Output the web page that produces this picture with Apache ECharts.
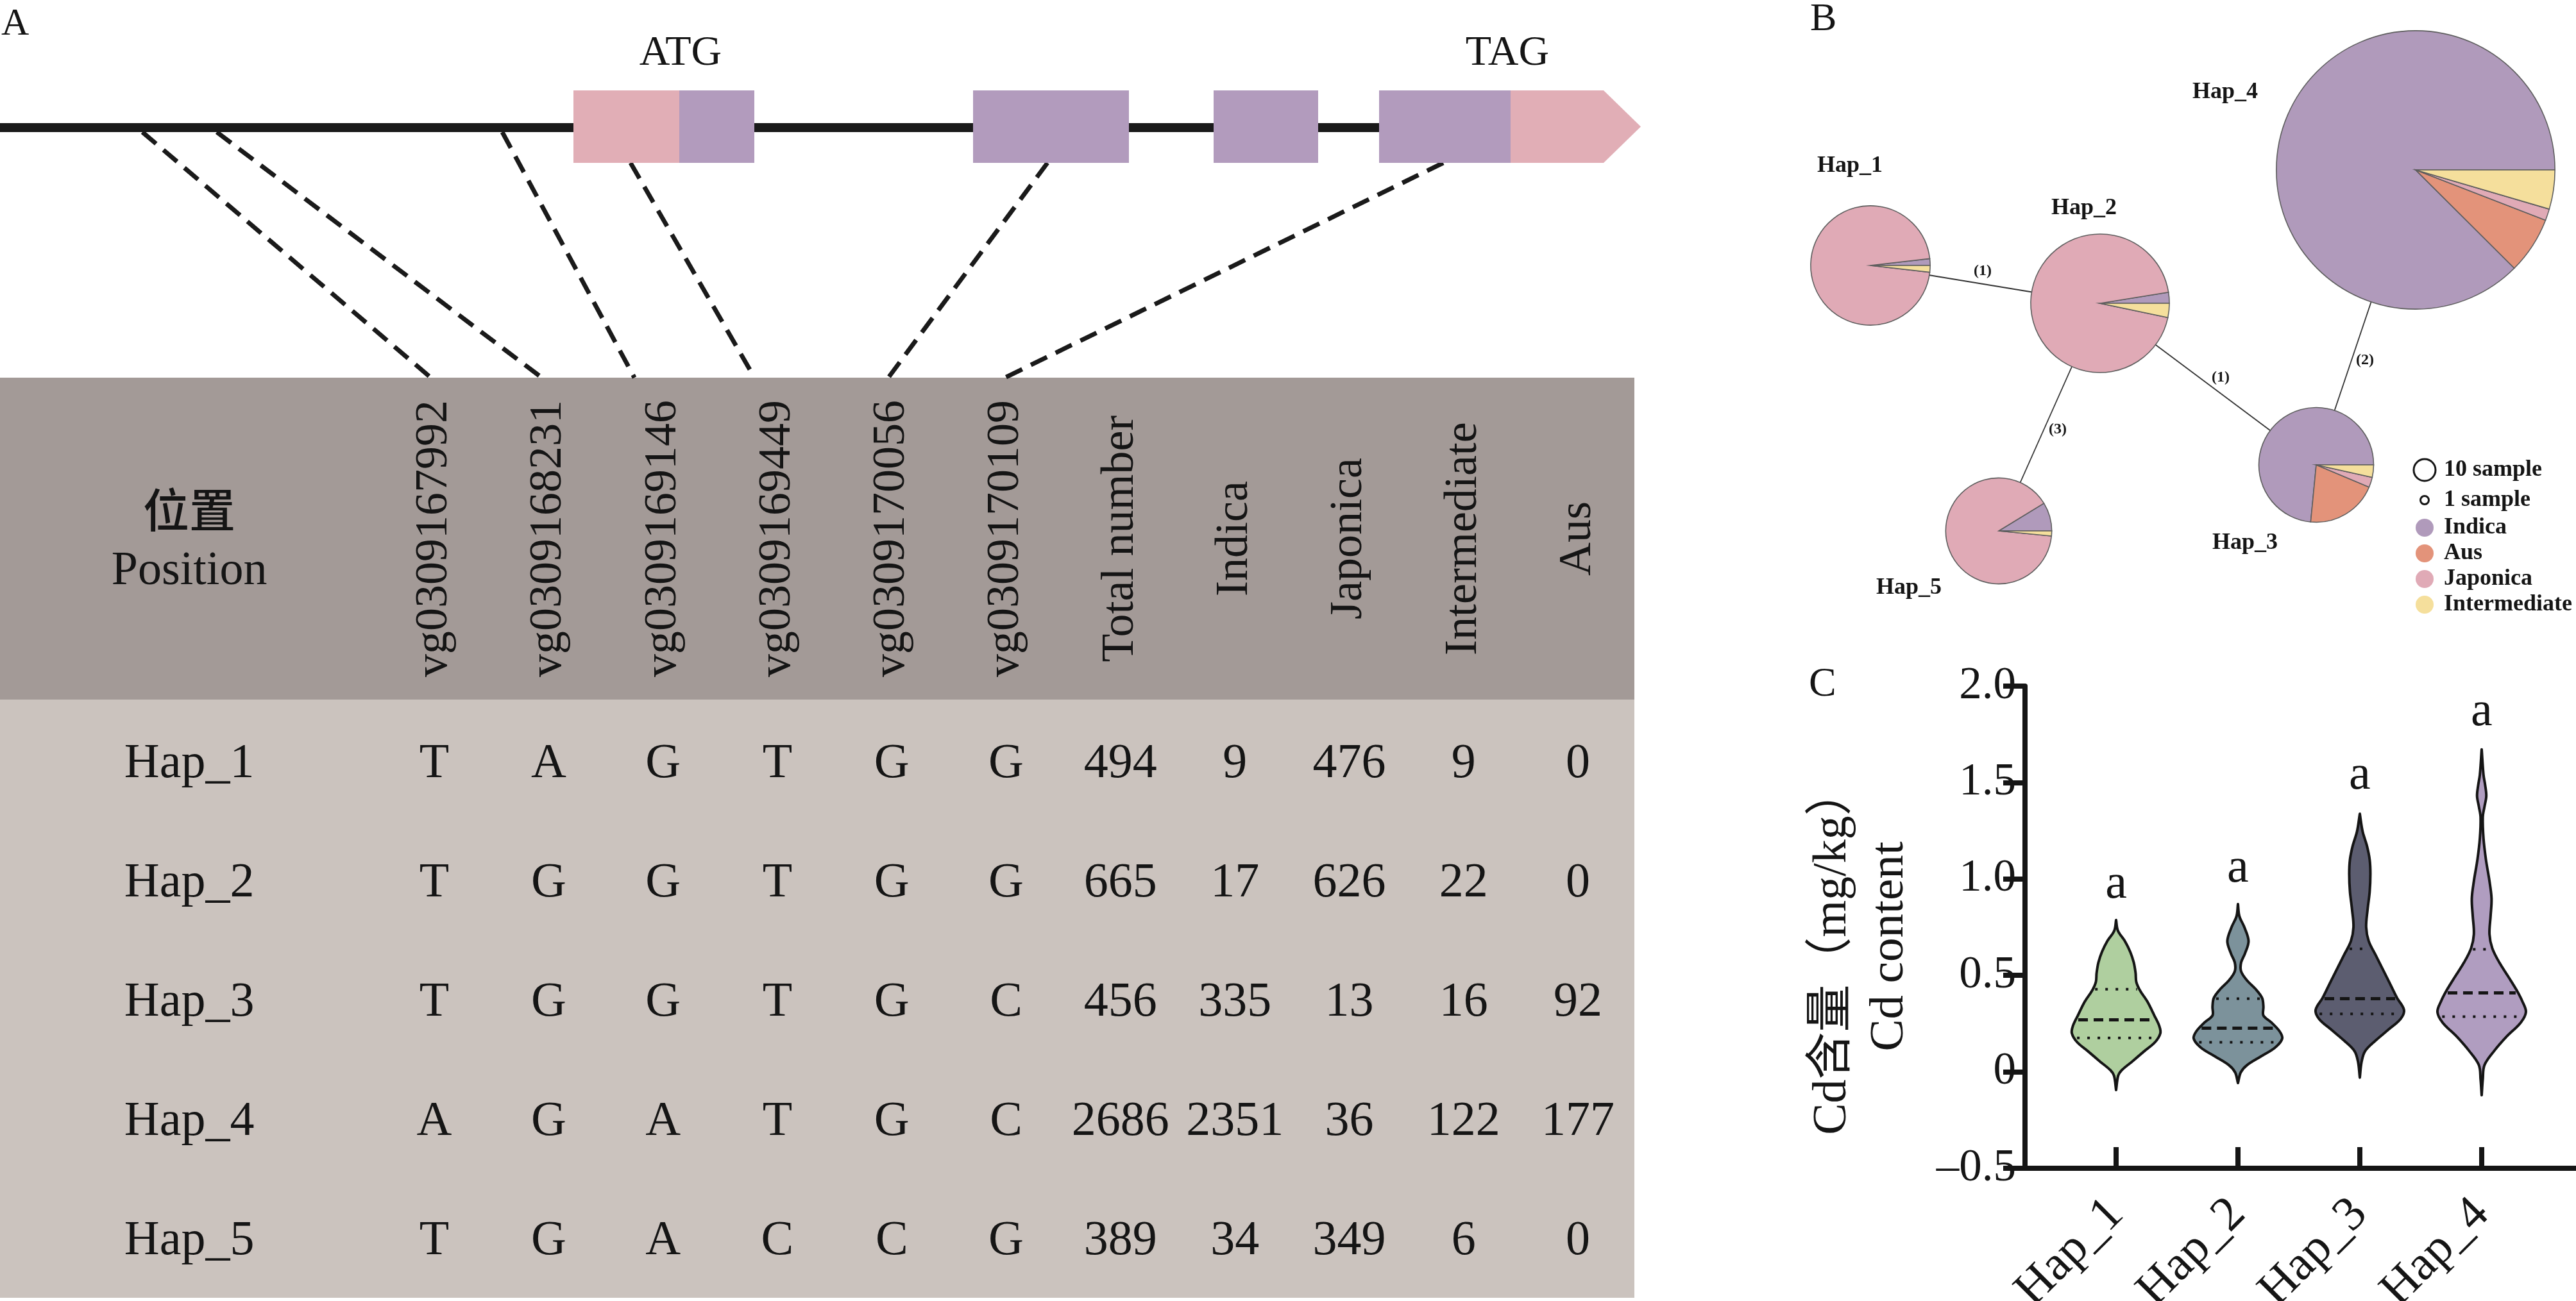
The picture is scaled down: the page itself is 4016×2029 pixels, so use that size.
<!DOCTYPE html>
<html><head><meta charset="utf-8">
<script src="https://cdn.jsdelivr.net/npm/echarts@6/dist/echarts.min.js"></script>
<style>html,body{margin:0;padding:0;background:#fff}#c{width:4016px;height:2029px}</style>
</head><body><div id="c"></div>
<script>
// ================= DATA =================
const haplotypes = ['Hap_1', 'Hap_2', 'Hap_3', 'Hap_4', 'Hap_5'];
const snpIds = ['vg0309167992', 'vg0309168231', 'vg0309169146', 'vg0309169449', 'vg0309170056', 'vg0309170109'];
const snpAlleles = [
  ['T', 'A', 'G', 'T', 'G', 'G'],
  ['T', 'G', 'G', 'T', 'G', 'G'],
  ['T', 'G', 'G', 'T', 'G', 'C'],
  ['A', 'G', 'A', 'T', 'G', 'C'],
  ['T', 'G', 'A', 'C', 'C', 'G']
];
const countHeaders = ['Total number', 'Indica', 'Japonica', 'Intermediate', 'Aus'];
const totalNumber = [494, 665, 456, 2686, 389];
const indica = [9, 17, 335, 2351, 34];
const japonica = [476, 626, 13, 36, 349];
const intermediate = [9, 22, 16, 122, 6];
const aus = [0, 0, 92, 177, 0];

// gene model (relative position units)
const geneBackbone = [0, 2355];
const exons = [[894, 1059, 'UTR'], [1059, 1176, 'CDS'], [1517, 1760, 'CDS'], [1892, 2055, 'CDS'], [2150, 2355, 'CDS'], [2355, 2558, 'UTR3']];
const codonLabels = ['ATG', 'TAG'];
const codonPos = [1061, 2350];
const snpGenePos = [222, 338, 783, 983, 1633, 2250];
// where each SNP's connector meets the table (in table column units)
const snpTableAnchor = [-0.03, 0.94, 1.75, 2.8, 3.97, 4.99];

// haplotype network
const networkEdges = [[0, 1, '(1)'], [1, 2, '(1)'], [1, 4, '(3)'], [2, 3, '(2)']];
const nodeLayout = [[266, 414], [624, 473], [961, 725], [1116, 265], [466, 828]];
const nodeLabelOffset = [[-32, -155], [-25, -148], [-111, 122], [-297, -121], [-140, 89]];

// violin plot (value, half-width in category units)
const violinGroups = ['Hap_1', 'Hap_2', 'Hap_3', 'Hap_4'];
const violinHap1 = [[-0.094,0],[-0.02,0.017],[0.007,0.044],[0.053,0.131],[0.108,0.233],[0.154,0.32],[0.200,0.363],[0.237,0.355],[0.292,0.314],[0.365,0.256],[0.420,0.198],[0.466,0.166],[0.512,0.16],[0.567,0.145],[0.622,0.116],[0.677,0.073],[0.732,0.015],[0.787,0]];
const violinHap2 = [[-0.058,0],[-0.003,0.023],[0.034,0.073],[0.080,0.189],[0.126,0.305],[0.172,0.363],[0.209,0.343],[0.255,0.276],[0.292,0.209],[0.338,0.209],[0.383,0.198],[0.429,0.145],[0.475,0.073],[0.521,0.026],[0.567,0.026],[0.614,0.058],[0.678,0.087],[0.751,0.052],[0.806,0.012],[0.870,0]];
const violinHap3 = [[-0.030,0],[0.053,0.015],[0.108,0.044],[0.163,0.131],[0.218,0.233],[0.274,0.334],[0.320,0.363],[0.384,0.305],[0.458,0.247],[0.531,0.189],[0.604,0.131],[0.678,0.073],[0.751,0.052],[0.843,0.064],[0.934,0.081],[1.026,0.087],[1.100,0.081],[1.173,0.058],[1.246,0.023],[1.338,0]];
const violinHap4 = [[-0.121,0],[-0.039,0.009],[0.035,0.023],[0.108,0.102],[0.182,0.203],[0.255,0.32],[0.310,0.363],[0.365,0.334],[0.420,0.29],[0.494,0.218],[0.567,0.145],[0.641,0.087],[0.714,0.064],[0.806,0.073],[0.898,0.081],[0.989,0.064],[1.100,0.035],[1.210,0.015],[1.320,0.009],[1.375,0.023],[1.430,0.038],[1.485,0.029],[1.540,0.015],[1.672,0]];
const violinProfiles = [violinHap1, violinHap2, violinHap3, violinHap4];
const medians = [0.27, 0.226, 0.379, 0.409];
const quartile1 = [0.176, 0.153, 0.300, 0.286];
const quartile3 = [0.428, 0.379, 0.638, 0.635];
const sigLetters = ['a', 'a', 'a', 'a'];
const sigLetterY = [0.97, 1.054, 1.533, 1.862];

// ================= STYLE / LAYOUT =================
const SERIF = '"Liberation Serif","Times New Roman","Noto Sans CJK SC",serif';
const CJK = '"Noto Sans CJK SC","Liberation Serif",serif';
const INK = '#151515';
const C_UTR = '#e1aeb6', C_CDS = '#b29bbd';
const groupNames = ['Indica', 'Aus', 'Japonica', 'Intermediate'];
const groupCounts = [indica, aus, japonica, intermediate];
const groupColors = ['#b09abb', '#e3937a', '#e0aab6', '#f5df9c'];
const violinColors = ['#afcf9f', '#7c929b', '#5c5d70', '#b09dc0'];
const PIE_K = 4.19;               // px per sqrt(sample)
const LINE_Y = 199, LINE_HALF = 7, BOX_TOP = 141, BOX_BOTTOM = 254, CODON_Y = 84, TABLE_TOP = 589;
const HAP_COL = -2.142, HEADER_ROW = -1.892;

function T(x, y, text, font, extra) {
  return Object.assign({ type: 'text', x: x, y: y, style: { text: text, font: font, fill: INK, align: 'center', verticalAlign: 'middle', textAlign: 'center', textVerticalAlign: 'middle' } }, extra || {});
}

// table cells
const cellPos = [], cellText = [];
haplotypes.forEach((h, r) => {
  cellPos.push([HAP_COL, r]); cellText.push(h);
  snpAlleles[r].forEach((a, c) => { cellPos.push([c, r]); cellText.push(a); });
  [totalNumber, indica, japonica, intermediate, aus].forEach((arr, k) => { cellPos.push([6 + k, r]); cellText.push(String(arr[r])); });
});
const headerText = snpIds.concat(countHeaders);

function hwAt(prof, v) {
  for (let k = 0; k < prof.length - 1; k++) {
    const a = prof[k], b = prof[k + 1];
    if (v >= a[0] && v <= b[0]) return a[1] + (b[1] - a[1]) * (v - a[0]) / (b[0] - a[0]);
  }
  return 0;
}

const chart = echarts.init(document.getElementById('c'));
const hidden = { show: false };
const option = {
  animation: false,
  backgroundColor: '#fff',
  grid: [
    { left: 0, top: 0, width: 2560, height: 589, outerBoundsMode: 'none' },
    { left: 0, top: 589, width: 2548, height: 1435, outerBoundsMode: 'none' },
    { left: 2650, top: 0, width: 1366, height: 1050, outerBoundsMode: 'none' },
    { left: 3157, top: 1070, width: 859, height: 752, outerBoundsMode: 'none' }
  ],
  xAxis: [
    Object.assign({ gridIndex: 0, type: 'value', min: 0, max: 2560 }, hidden),
    Object.assign({ gridIndex: 1, type: 'value', min: -3.797, max: 10.493 }, hidden),
    Object.assign({ gridIndex: 2, type: 'value', min: 0, max: 1366 }, hidden),
    {
      gridIndex: 3, type: 'value', min: 0.2526, max: 4.774,
      axisLine: { show: true, onZero: false, lineStyle: { color: INK, width: 8 } },
      axisTick: { show: true, inside: true, length: 33, customValues: [1, 2, 3, 4], lineStyle: { color: INK, width: 8 } },
      axisLabel: { show: true, customValues: [1, 2, 3, 4], rotate: 45, margin: 60, fontFamily: SERIF, fontSize: 76, color: INK,
        formatter: v => violinGroups[Math.round(v) - 1] || '' },
      splitLine: { show: false }
    }
  ],
  yAxis: [
    Object.assign({ gridIndex: 0, type: 'value', min: 0, max: 589, inverse: true }, hidden),
    Object.assign({ gridIndex: 1, type: 'value', min: -3.242, max: 4.473, inverse: true }, hidden),
    Object.assign({ gridIndex: 2, type: 'value', min: 0, max: 1050, inverse: true }, hidden),
    {
      gridIndex: 3, type: 'value', min: -0.5, max: 2.0, interval: 0.5,
      axisLine: { show: true, onZero: false, lineStyle: { color: INK, width: 8 } },
      axisTick: { show: true, length: 34, lineStyle: { color: INK, width: 8 } },
      axisLabel: { show: true, margin: 14, fontFamily: SERIF, fontSize: 71, color: INK,
        formatter: v => v === 0 ? '0' : (v < 0 ? '\u2013' + Math.abs(v).toFixed(1) : v.toFixed(1)) },
      splitLine: { show: false }
    }
  ],
  graphic: [
    // table backgrounds
    { type: 'rect', z: 0, shape: { x: 0, y: 589, width: 2548, height: 502 }, style: { fill: '#a39a97' } },
    { type: 'rect', z: 0, shape: { x: 0, y: 1091, width: 2548, height: 933 }, style: { fill: '#cbc3be' } },
    // panel letters
    { type: 'text', x: 2, y: 8, style: { text: 'A', font: '60px ' + SERIF, fill: INK } },
    { type: 'text', x: 2822, y: 0, style: { text: 'B', font: '62px ' + SERIF, fill: INK } },
    { type: 'text', x: 2820, y: 1036, style: { text: 'C', font: '64px ' + SERIF, fill: INK } },
    // y-axis title of C
    T(2858, 1484, 'Cd含量（mg/kg）', '74px ' + SERIF, { rotation: Math.PI / 2 }),
    T(2946, 1476, 'Cd content', '75px ' + SERIF, { rotation: Math.PI / 2 }),
    // legend of B
    { type: 'circle', shape: { cx: 3780, cy: 733, r: 17 }, style: { fill: 'none', stroke: INK, lineWidth: 3 } },
    { type: 'circle', shape: { cx: 3780, cy: 780, r: 6.5 }, style: { fill: 'none', stroke: INK, lineWidth: 3 } },
    ...groupNames.map((g, k) => ({ type: 'circle', shape: { cx: 3780, cy: 823 + k * 40, r: 14 }, style: { fill: groupColors[k] } })),
    ...['10 sample', '1 sample'].concat(groupNames).map((t, k) => ({
      type: 'text', x: 3810, y: [733, 780, 823, 863, 903, 943][k],
      style: { text: t, font: 'bold 36px ' + SERIF, fill: INK, align: 'left', verticalAlign: 'middle', textAlign: 'left', textVerticalAlign: 'middle' }
    }))
  ],
  series: [
    // gene backbone
    {
      type: 'custom', xAxisIndex: 0, yAxisIndex: 0, z: 2, data: [geneBackbone],
      renderItem: (p, api) => {
        const a = api.coord([api.value(0), LINE_Y - LINE_HALF]), b = api.coord([api.value(1), LINE_Y + LINE_HALF]);
        return { type: 'rect', shape: { x: a[0], y: a[1], width: b[0] - a[0], height: b[1] - a[1] }, style: { fill: '#1a1a1a' } };
      }
    },
    // exons
    {
      type: 'custom', xAxisIndex: 0, yAxisIndex: 0, z: 3, data: exons.map(e => [e[0], e[1]]),
      renderItem: (p, api) => {
        const kind = exons[p.dataIndex][2];
        const a = api.coord([api.value(0), BOX_TOP]), b = api.coord([api.value(1), BOX_BOTTOM]);
        if (kind === 'UTR3') {
          const tipW = 58, m = (a[1] + b[1]) / 2;
          return { type: 'polygon', shape: { points: [[a[0], a[1]], [b[0] - tipW, a[1]], [b[0], m], [b[0] - tipW, b[1]], [a[0], b[1]]] }, style: { fill: C_UTR } };
        }
        return { type: 'rect', shape: { x: a[0], y: a[1], width: b[0] - a[0], height: b[1] - a[1] }, style: { fill: kind === 'CDS' ? C_CDS : C_UTR } };
      }
    },
    // codon labels
    {
      type: 'custom', xAxisIndex: 0, yAxisIndex: 0, z: 3, data: codonPos.map(v => [v, CODON_Y]),
      renderItem: (p, api) => { const c = api.coord([api.value(0), api.value(1)]); return T(c[0], c[1], codonLabels[p.dataIndex], '66px ' + SERIF); }
    },
    // connectors (filled after layout)
    {
      id: 'connectors', type: 'custom', xAxisIndex: 0, yAxisIndex: 0, z: 1, data: [],
      renderItem: (p, api) => {
        const pos = api.value(0), tgt = api.value(1);
        const inExon = exons.some(e => pos >= e[0] && pos <= e[1]);
        const a = api.coord([pos, inExon ? BOX_BOTTOM : LINE_Y + LINE_HALF]), b = api.coord([tgt, TABLE_TOP]);
        return { type: 'line', shape: { x1: a[0], y1: a[1], x2: b[0], y2: b[1] }, style: { stroke: '#1a1a1a', lineWidth: 7, lineDash: [28, 15] } };
      }
    },
    // table header
    {
      type: 'custom', xAxisIndex: 1, yAxisIndex: 1, z: 5, data: headerText.map((t, c) => [c, HEADER_ROW]),
      renderItem: (p, api) => {
        const c = api.coord([api.value(0), api.value(1)]);
        return T(c[0], c[1], headerText[p.dataIndex], '72px ' + SERIF, { rotation: Math.PI / 2 });
      }
    },
    {
      type: 'custom', xAxisIndex: 1, yAxisIndex: 1, z: 5, data: [[HAP_COL, -2.134], [HAP_COL, -1.613]],
      renderItem: (p, api) => {
        const c = api.coord([api.value(0), api.value(1)]);
        return p.dataIndex === 0 ? T(c[0], c[1], '位置', '500 72px ' + CJK) : T(c[0], c[1], 'Position', '74px ' + SERIF);
      }
    },
    // table body
    {
      type: 'custom', xAxisIndex: 1, yAxisIndex: 1, z: 5, data: cellPos,
      renderItem: (p, api) => {
        const c = api.coord([api.value(0), api.value(1)]);
        return T(c[0], c[1], cellText[p.dataIndex], '76px ' + SERIF);
      }
    },
    // network edges
    {
      type: 'custom', xAxisIndex: 2, yAxisIndex: 2, z: 4, data: networkEdges.map(e => [e[0], e[1]]),
      renderItem: (p, api) => {
        const e = networkEdges[p.dataIndex];
        const pa = api.coord(nodeLayout[e[0]]), pb = api.coord(nodeLayout[e[1]]);
        const ra = PIE_K * Math.sqrt(totalNumber[e[0]]), rb = PIE_K * Math.sqrt(totalNumber[e[1]]);
        const dx = pb[0] - pa[0], dy = pb[1] - pa[1], d = Math.hypot(dx, dy), ux = dx / d, uy = dy / d;
        const s = ra + (d - ra - rb) / 2;
        let px = -uy, py = ux; if (px < 0) { px = -px; py = -py; }
        const mx = pa[0] + ux * s + px * 20, my = pa[1] + uy * s + py * 20;
        return { type: 'group', children: [
          { type: 'line', shape: { x1: pa[0], y1: pa[1], x2: pb[0], y2: pb[1] }, style: { stroke: '#333', lineWidth: 1.8 } },
          T(mx, my, e[2], 'bold 24px ' + SERIF)
        ] };
      }
    },
    // network pies
    {
      type: 'custom', xAxisIndex: 2, yAxisIndex: 2, z: 6, data: nodeLayout.map((n, i) => [n[0], n[1], totalNumber[i]]),
      renderItem: (p, api) => {
        const i = p.dataIndex;
        const c = api.coord([api.value(0), api.value(1)]);
        const r = PIE_K * Math.sqrt(api.value(2));
        const total = groupCounts.reduce((s, arr) => s + arr[i], 0);
        let cum = 0; const children = [];
        groupCounts.forEach((arr, g) => {
          const v = arr[i]; if (!v) return;
          const a0 = -cum / total * 2 * Math.PI; cum += v; const a1 = -cum / total * 2 * Math.PI;
          children.push({ type: 'sector', shape: { cx: c[0], cy: c[1], r: r, r0: 0, startAngle: a1, endAngle: a0, clockwise: true }, style: { fill: groupColors[g], stroke: '#5e5e5e', lineWidth: 1.6 } });
        });
        const o = nodeLabelOffset[i];
        children.push(T(c[0] + o[0], c[1] + o[1], haplotypes[i], 'bold 36px ' + SERIF));
        return { type: 'group', children: children };
      }
    },
    // violins
    {
      type: 'custom', xAxisIndex: 3, yAxisIndex: 3, z: 5, data: violinGroups.map((g, i) => [i + 1, medians[i]]),
      renderItem: (p, api) => {
        const i = p.dataIndex, xc = api.value(0), prof = violinProfiles[i];
        const right = prof.map(q => api.coord([xc + q[1], q[0]]));
        const left = prof.slice().reverse().map(q => api.coord([xc - q[1], q[0]]));
        const children = [{ type: 'polygon', shape: { points: right.concat(left), smooth: 0.35 }, style: { fill: violinColors[i], stroke: INK, lineWidth: 4, lineJoin: 'round' } }];
        const hl = (v, dash, w) => {
          const hw = hwAt(prof, v) - 0.02;
          const a = api.coord([xc - hw, v]), b = api.coord([xc + hw, v]);
          return { type: 'line', shape: { x1: a[0], y1: a[1], x2: b[0], y2: b[1] }, style: { stroke: INK, lineWidth: w, lineDash: dash } };
        };
        children.push(hl(medians[i], [15, 9], 5));
        children.push(hl(quartile1[i], [4, 12], 4));
        children.push(hl(quartile3[i], [4, 12], 4));
        const t = api.coord([xc, sigLetterY[i]]);
        children.push(T(t[0], t[1], sigLetters[i], '76px ' + SERIF));
        return { type: 'group', children: children };
      }
    }
  ]
};
chart.setOption(option);
const targets = snpTableAnchor.map(c => chart.convertFromPixel({ xAxisIndex: 0 }, chart.convertToPixel({ xAxisIndex: 1 }, c)));
chart.setOption({ series: [{ id: 'connectors', data: snpGenePos.map((g, i) => [g, targets[i]]) }] });
</script>
</body></html>
